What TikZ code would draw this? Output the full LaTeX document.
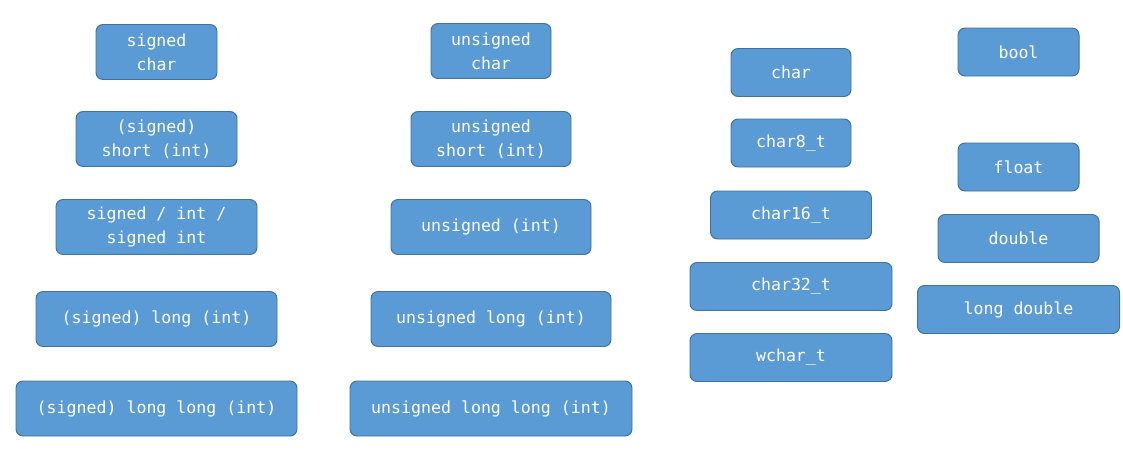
\documentclass[tikz,border=0pt]{standalone}
\usepackage{fontspec}
\setmonofont{DejaVu Sans Mono}
\definecolor{boxblue}{RGB}{91, 155, 213}
\definecolor{boxedge}{RGB}{65, 113, 156}
\usepackage{tikz}
\usetikzlibrary{positioning}

\begin{document}
\begin{tikzpicture}[
  tbox/.style={draw=boxedge, fill=boxblue, line width=0.7pt, rounded corners=5pt, text=white, align=center, inner sep=0pt, font=\ttfamily\fontsize{11.8}{17.07}\selectfont, minimum height=1.375cm},
  cbox/.style={tbox, minimum height=1.2cm}
]
  \useasboundingbox (0,0) rectangle (28.075,-11.8);
  % signed integer types
  \node[tbox, minimum width=3.025cm] (schar) at (3.9125, -1.3) {signed\\char};
  \node[tbox, minimum width=4.025cm] (sshort) at (3.9125, -3.475) {(signed)\\short (int)};
  \node[tbox, minimum width=5.025cm] (sint) at (3.9125, -5.675) {signed / int /\\signed int};
  \node[tbox, minimum width=6.025cm] (slong) at (3.9125, -7.975) {(signed) long (int)};
  \node[tbox, minimum width=7.025cm] (sllong) at (3.9125, -10.2125) {(signed) long long (int)};
  % unsigned integer types
  \node[tbox, minimum width=3.0cm] (uchar) at (12.275, -1.275) {unsigned\\char};
  \node[tbox, minimum width=4.0cm] (ushort) at (12.275, -3.475) {unsigned\\short (int)};
  \node[tbox, minimum width=5.0cm] (uint) at (12.275, -5.675) {unsigned (int)};
  \node[tbox, minimum width=6.0cm] (ulong) at (12.275, -7.975) {unsigned long (int)};
  \node[tbox, minimum width=7.05cm] (ullong) at (12.275, -10.2125) {unsigned long long (int)};
  % character types
  \node[cbox, minimum width=3.0cm] (char) at (19.775, -1.8125) {char};
  \node[cbox, minimum width=3.0cm] (chareight) at (19.775, -3.575) {char8\_t};
  \node[cbox, minimum width=4.025cm] (charsixteen) at (19.775, -5.375) {char16\_t};
  \node[cbox, minimum width=5.05cm] (charthirtytwo) at (19.775, -7.1625) {char32\_t};
  \node[cbox, minimum width=5.05cm] (wchar) at (19.775, -8.9375) {wchar\_t};
  % bool and floating point types
  \node[cbox, minimum width=3.025cm] (bool) at (25.4625, -1.3) {bool};
  \node[cbox, minimum width=3.025cm] (float) at (25.4625, -4.175) {float};
  \node[cbox, minimum width=4.025cm] (double) at (25.4625, -5.9625) {double};
  \node[cbox, minimum width=5.05cm] (ldouble) at (25.4625, -7.7375) {long double};
\end{tikzpicture}
\end{document}
